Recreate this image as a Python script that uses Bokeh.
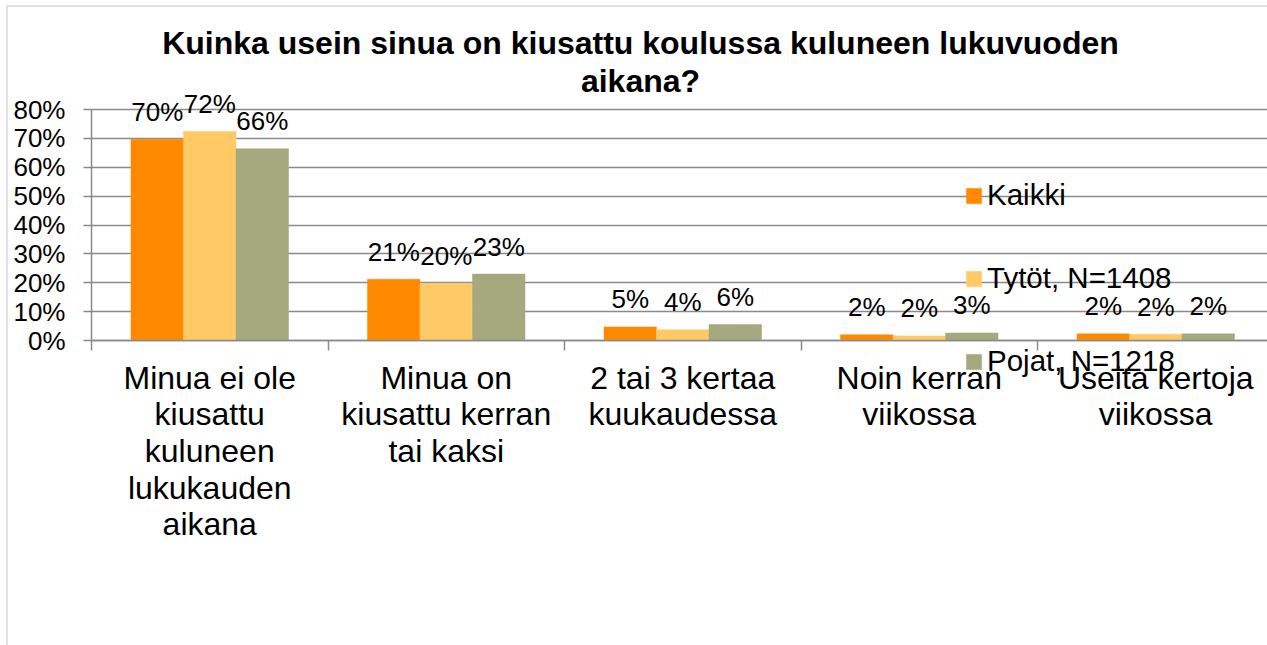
from bokeh.plotting import figure
from bokeh.models import (ColumnDataSource, FixedTicker, NumeralTickFormatter,
                          LabelSet, Legend, LegendItem, Range1d, BoxAnnotation)
from bokeh.core.properties import value
from bokeh.embed import file_html
from bokeh.resources import INLINE

# ---------------- data ----------------
categories = [
    "Minua ei ole\nkiusattu\nkuluneen\nlukukauden\naikana",
    "Minua on\nkiusattu kerran\ntai kaksi",
    "2 tai 3 kertaa\nkuukaudessa",
    "Noin kerran\nviikossa",
    "Useita kertoja\nviikossa",
]
series_names = ["Kaikki", "Tytöt, N=1408", "Pojat, N=1218"]
kaikki = [0.697, 0.212, 0.047, 0.020, 0.023]
tytot = [0.724, 0.198, 0.037, 0.016, 0.022]
pojat = [0.664, 0.230, 0.055, 0.026, 0.023]
y_ticks = [0.0, 0.1, 0.2, 0.3, 0.4, 0.5, 0.6, 0.7, 0.8]
title_lines = ["Kuinka usein sinua on kiusattu koulussa kuluneen lukuvuoden", "aikana?"]

# ---------------- style / layout ----------------
colors = ["#FF8A00", "#FFC966", "#A4A97E"]
grid_color = "#8A8A8A"
FONT = "Liberation Sans"

W, H = 1267, 645
AXIS_X, ZERO_Y = 91.0, 340.0      # pixel position of plot-area origin
CAT_PX = 236.5                    # pixel width of one category
UNIT_PX = 231.0 / 0.8             # pixels per 100 %

def px(page_x):
    return (page_x - AXIS_X) / CAT_PX

def py(page_y):
    return (ZERO_Y - page_y) / UNIT_PX

x_right = px(W)

p = figure(width=W, height=H, output_backend="svg", toolbar_location=None, title=None,
           x_range=Range1d(px(0), px(W)), y_range=Range1d(py(H), py(0)),
           min_border=0, min_border_left=0, min_border_right=0, min_border_top=0,
           min_border_bottom=0)
p.outline_line_color = None
p.background_fill_color = "white"
p.border_fill_color = "white"

# bars
bw = 0.222
offsets = [-bw, 0.0, bw]
renderers = []
label_x, label_y, label_t = [], [], []
for vals, off, col in zip([kaikki, tytot, pojat], offsets, colors):
    xs = [k + 0.5 + off for k in range(len(categories))]
    src = ColumnDataSource(dict(x=xs, top=vals))
    r = p.vbar(x="x", top="top", width=bw, source=src, fill_color=col, line_color=col,
               line_width=0.5)
    renderers.append(r)
    label_x += xs
    label_y += vals
    label_t += ["%d%%" % round(v * 100) for v in vals]

# grid
p.xgrid.visible = False
p.ygrid.ticker = FixedTicker(ticks=y_ticks)
p.ygrid.grid_line_color = grid_color
p.ygrid.grid_line_width = 1.5
p.ygrid.level = "underlay"
try:
    p.ygrid.cross_bounds = (0, x_right)
except Exception:
    p.ygrid.visible = False
    p.segment(x0=[0] * len(y_ticks), x1=[x_right] * len(y_ticks), y0=y_ticks,
              y1=y_ticks, line_color=grid_color, line_width=1.5, level="underlay")

# y axis (fixed at x = 0)
p.yaxis.fixed_location = 0
p.yaxis.bounds = (0, 0.8)
p.yaxis.ticker = FixedTicker(ticks=y_ticks)
p.yaxis.formatter = NumeralTickFormatter(format="0%")
p.yaxis.major_label_text_font = FONT
p.yaxis.major_label_text_font_size = "26px"
p.yaxis.major_label_text_color = "black"
p.yaxis.major_tick_out = 8
p.yaxis.major_tick_in = 0
p.yaxis.minor_tick_line_color = None
p.yaxis.axis_line_color = grid_color
p.yaxis.axis_line_width = 1.5
p.yaxis.major_tick_line_color = grid_color
p.yaxis.major_tick_line_width = 1.5
p.yaxis.major_label_standoff = 18

# x axis (fixed at y = 0), category dividers as ticks
p.xaxis.fixed_location = 0
p.xaxis.bounds = (0, x_right)
p.xaxis.ticker = FixedTicker(ticks=[], minor_ticks=list(range(len(categories) + 1)))
p.xaxis.major_tick_line_color = None
p.xaxis.minor_tick_out = 10
p.xaxis.minor_tick_in = 0
p.xaxis.minor_tick_line_color = grid_color
p.xaxis.minor_tick_line_width = 1.5
p.xaxis.axis_line_color = grid_color
p.xaxis.axis_line_width = 1.5

# data labels
lsrc = ColumnDataSource(dict(x=label_x, y=label_y, t=label_t))
p.add_layout(LabelSet(x="x", y="y", text="t", source=lsrc, text_align="center",
                      text_baseline="alphabetic", y_offset=18.5,
                      text_font=value(FONT), text_font_size="26px", text_color="black"))

# category labels (one entry per line)
line_gap = 36.7
cx, cy, ct = [], [], []
for k, cat in enumerate(categories):
    for j, line in enumerate(cat.split("\n")):
        cx.append(k + 0.5)
        cy.append(py(388 + j * line_gap))
        ct.append(line)
p.add_layout(LabelSet(x="x", y="y", text="t", source=ColumnDataSource(dict(x=cx, y=cy, t=ct)),
                      text_align="center", text_baseline="alphabetic",
                      text_font=value(FONT), text_font_size="32px", text_color="black"))

# title
tsrc = ColumnDataSource(dict(x=[px(640)] * len(title_lines), y=[py(53), py(91)],
                             t=title_lines))
p.add_layout(LabelSet(x="x", y="y", text="t", source=tsrc, text_align="center",
                      text_baseline="alphabetic", text_font=value(FONT),
                      text_font_size="32px", text_font_style="bold", text_color="black"))

# legend
items = [LegendItem(label=n, renderers=[r]) for n, r in zip(series_names, renderers)]
legend = Legend(items=items, location=(964, H - 381), orientation="vertical",
                glyph_width=19, glyph_height=19, label_height=40, spacing=43,
                label_standoff=4, padding=0, margin=0,
                label_text_font=FONT, label_text_font_size="29.5px",
                label_text_color="black", border_line_color=None,
                background_fill_alpha=0)
p.add_layout(legend, "center")

# outer chart border (left and top edges visible)
p.add_layout(BoxAnnotation(left=px(6.5), right=px(W + 40), top=py(5.5), bottom=py(H + 40),
                           fill_alpha=0, line_color="#9A9A9A", line_width=2))

open("out.html", "w").write(file_html(p, INLINE))
